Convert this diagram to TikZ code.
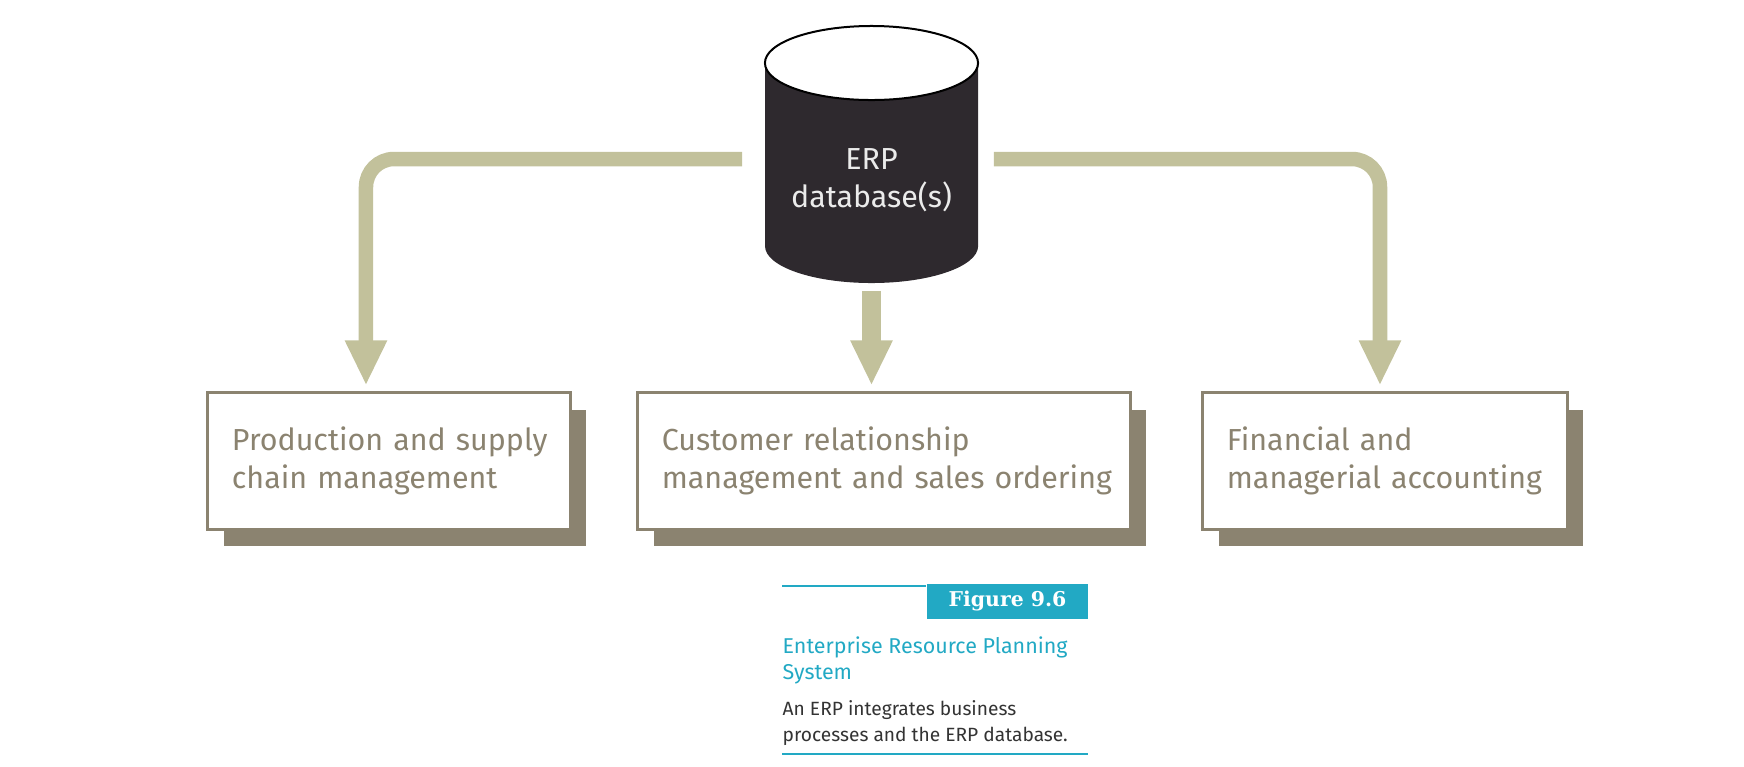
\documentclass[tikz,border=0pt]{standalone}
\usepackage{fontspec}
\setmainfont{Fira Sans}
\newfontfamily\tagfont{DejaVu Serif}
\usetikzlibrary{arrows.meta,shadows}
\definecolor{flowc}{HTML}{C2C19B}
\definecolor{boxc}{HTML}{8B8370}
\definecolor{dbc}{HTML}{2E292E}
\definecolor{tealc}{HTML}{22A9C4}
\definecolor{captc}{HTML}{333333}
\begin{document}
\begin{tikzpicture} [
                x=0.01cm, y=-0.01cm,
                flow/.style = {draw=flowc, line width=0.145cm, rounded corners=0.28cm,
                    -{Triangle[width=0.39cm,length=0.45cm]}, shorten >=0.06cm},
                process/.style = {draw=boxc, line width=0.03cm, fill=white, text=boxc,
                    align=left, inner xsep=0.24cm, inner ysep=0pt, minimum height=1.36cm,
                    font=\fontsize{8.65}{10.8}\selectfont,
                    drop shadow={shadow xshift=0.16cm, shadow yshift=-0.17cm, fill=boxc, opacity=1}},
                dbtext/.style = {text=white!92!black, align=center, inner sep=0pt,
                    font=\fontsize{8.65}{10.8}\selectfont},
                figtag/.style = {fill=tealc, text=white, inner sep=0pt,
                    minimum width=1.61cm, minimum height=0.35cm,
                    font=\tagfont\bfseries\fontsize{5.8}{6.5}\selectfont},
                capt title/.style = {text=tealc, align=left, inner sep=0pt, anchor=north west,
                    font=\fontsize{6.1}{7.4}\selectfont},
                capt text/.style = {text=captc, align=left, inner sep=0pt, anchor=north west,
                    font=\fontsize{5.45}{7.4}\selectfont},
                rule/.style = {draw=tealc, line width=0.02cm},
            ]
            \useasboundingbox (0,0) rectangle (1744,766);
            % The database cylinder
            \fill[dbc] (765,63) -- (765,246)
                arc[start angle=180, end angle=360, x radius=1.065cm, y radius=0.37cm]
                -- (978,63) -- cycle;
            \draw[line width=0.02cm, fill=white] (871.5,63)
                ellipse [x radius=1.065cm, y radius=0.37cm];
            \node[minimum width=2.13cm, minimum height=2.56cm, inner sep=0pt] (db) at (871.5,155) {};
            \node[dbtext] (dblabel) at (871.5,180) {ERP\\database(s)};
            % The three business processes
            \foreach \pos/\name/\tw/\txt in {
                    {(389,461)/prod/3.14cm/\mbox{Production and supply}\\\mbox{chain management}},
                    {(884,461)/cust/4.44cm/\mbox{Customer relationship}\\\mbox{management and sales ordering}},
                    {(1385,461)/fin/3.16cm/\mbox{Financial and}\\\mbox{managerial accounting}}}
                \node[process, text width=\tw] (\name) at \pos {\txt};
            % Flows from the database
            \draw[flow, shorten <=0.22cm] ([yshift=-0.04cm]db.west) -| ([xshift=-0.23cm]prod.north);
            \draw[flow, line width=0.19cm, shorten <=0.07cm] (db.south) -- (db.south |- cust.north);
            \draw[flow, shorten <=0.15cm] ([yshift=-0.04cm]db.east) -| ([xshift=-0.05cm]fin.north);
            % Caption
            \node[figtag] (tag) at (1007.5,601.5) {Figure 9.6};
            \draw[rule] (782,586) -- (tag.north west |- 782,586);
            \node[capt title] (title) at (782,636) {Enterprise Resource Planning\\System};
            \node[capt text] (desc) at (782,700) {An ERP integrates business\\processes and the ERP database.};
            \draw[rule] (782,754) -- (1088,754);
        \end{tikzpicture}
\end{document}
